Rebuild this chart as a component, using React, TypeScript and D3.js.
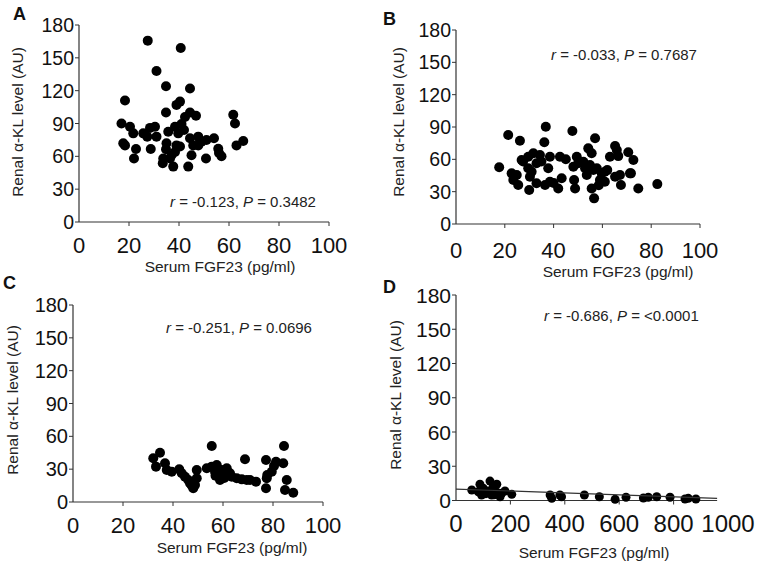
import React from "react";
import * as d3 from "d3";

// ---------- Data ----------
const aX = [27.5, 40.7, 31, 34.8, 44.4, 18.4, 40.4, 39, 34.8, 44.4, 46.8, 42.4, 61.7, 62.4, 17, 20.4, 21.7, 25.7, 28.4, 30.4, 31, 27.3, 35.7, 38.4, 39.7, 41, 42, 17.7, 18.4, 22.8, 28.7, 35, 34.8, 39, 40.4, 38.4, 37, 33.7, 33.5, 36.4, 37.7, 22, 44.4, 45, 43.7, 47.7, 49, 51, 54, 45.7, 47.7, 50.8, 55.7, 56, 57, 63, 65.7];
const aY = [165.7, 159, 138, 124, 122, 111, 110, 107, 100, 100, 97, 96, 98, 90, 90, 87, 81, 81, 86, 87, 78, 78, 82.5, 87, 81, 89.6, 84, 72, 70, 66.7, 66.7, 72, 66.5, 70, 69, 64, 61, 58, 53.6, 58, 50.6, 58, 76.5, 61, 50.6, 78, 73.4, 75, 76.5, 70, 70, 58, 67, 63, 60, 70, 74];

const bX = [17.7, 21.4, 26.2, 36.8, 36.2, 47.7, 57, 54.2, 55.6, 65.2, 65.9, 63.1, 66.5, 70.6, 72.7, 71.7, 67.6, 74.7, 82.5, 22.8, 24.9, 23.5, 25.5, 26.9, 29.6, 29.6, 31, 30.3, 30, 31.7, 34.4, 33, 33, 36.5, 38.5, 37.8, 38.5, 42.6, 43.3, 41.9, 48.1, 49.5, 48.4, 48.8, 50.1, 52.2, 52.9, 53.6, 54.9, 56.3, 55.6, 56.6, 57.7, 59.7, 59, 61, 61, 65.2, 67.2, 71.3, 27.5, 35, 40, 45, 58.5, 62];
const bY = [52.6, 82.6, 77.3, 90.3, 75.8, 86.3, 79.5, 70.2, 65.6, 72.4, 68.6, 62.4, 63, 66.5, 59.4, 47, 36.2, 33, 37, 47, 45.5, 40.8, 36.2, 59.4, 62.4, 51.7, 48.5, 43.9, 31.5, 65.6, 64, 56.3, 37.8, 36.2, 39.2, 51.7, 62.4, 62.4, 42.4, 33, 53.2, 62.4, 40.8, 33, 56.3, 57.8, 51.7, 45.5, 54.7, 50.1, 33, 23.8, 51.7, 47, 40.8, 48.5, 39.2, 43.9, 45.5, 47, 58, 58, 38, 60, 36, 50];

const cX = [32.1, 34.8, 33.2, 36.8, 37.5, 39.5, 42.5, 43.5, 44.8, 46.1, 46.8, 48.1, 48.8, 49.5, 49.5, 55.5, 53.5, 55.5, 57.5, 56.8, 59.5, 58.8, 61.5, 62.8, 63.5, 65.5, 67.5, 69.5, 70.8, 73.2, 68.8, 77.2, 77.5, 77.7, 77.2, 79.5, 80.4, 81.2, 84.4, 84.1, 85.5, 84.8, 88.1, 47.5, 58, 60.5, 57];
const cY = [39.9, 45, 32.3, 35.4, 29.3, 27.7, 29.9, 26.2, 23.1, 20.1, 17.1, 12.5, 15.5, 29.3, 21.7, 51.2, 30.8, 32.3, 33.8, 27.7, 29.3, 20.1, 30.8, 26.2, 23.1, 21.7, 20.7, 20.1, 20.1, 18.6, 39, 38.4, 21.7, 24.7, 12.5, 27.7, 32.9, 36.8, 51.2, 35.4, 20.1, 11, 8.5, 15, 25, 22, 24];

const dX = [58, 88, 82, 94, 100, 125, 119, 131, 137, 150, 150, 162, 168, 180, 205, 346, 352, 382, 388, 472, 527, 585, 625, 689, 707, 738, 787, 842, 854, 882, 110, 140];
const dY = [9.2, 14.2, 7.7, 4.8, 10.7, 17, 8.3, 4.8, 12.1, 14.2, 7.2, 3.3, 6.3, 8.3, 5.4, 4.8, 1.9, 4.8, 3.3, 4.8, 3.3, 1, 2.8, 2.2, 2.8, 3.3, 2.8, 1.3, 1.9, 1.3, 6, 5];
const dFitX = [0, 960];
const dFitY = [10, 1.8];

const yTicks = [0, 30, 60, 90, 120, 150, 180];
const xTicks100 = [0, 20, 40, 60, 80, 100];
const xTicks1000 = [0, 200, 400, 600, 800, 1000];

const letters = ["A", "B", "C", "D"];
const stats = [
  ["-0.123", "0.3482"],
  ["-0.033", "0.7687"],
  ["-0.251", "0.0696"],
  ["-0.686", "<0.0001"],
];
const xTitle = "Serum FGF23 (pg/ml)";
const yTitle = "Renal \u03b1-KL level (AU)";

const FONT = "'Liberation Sans', Arial, Helvetica, sans-serif";

type Geo = {
  xr: [number, number];
  yr: [number, number];
  xDomain: [number, number];
  xEnd: number;
  xTicks: number[];
  xLabBase: number;
  xLabSize: number;
  yLabSize: number;
  titleX: number;
  titleBase: number;
  yTitleX: number;
  yTitleY: number;
  statX: number;
  statBase: number;
  letterX: number;
  letterBase: number;
  r: number;
};

const geos: Geo[] = [
  { xr: [79, 329], yr: [222, 25], xDomain: [0, 100], xEnd: 100, xTicks: xTicks100, xLabBase: 253, xLabSize: 22, yLabSize: 19.5, titleX: 220, titleBase: 272, yTitleX: 17, yTitleY: 122, statX: 170, statBase: 207, letterX: 13, letterBase: 20, r: 5 },
  { xr: [456, 700], yr: [224, 30], xDomain: [0, 100], xEnd: 100, xTicks: xTicks100, xLabBase: 258, xLabSize: 22, yLabSize: 19.5, titleX: 618, titleBase: 277, yTitleX: 398, yTitleY: 122, statX: 551, statBase: 60, letterX: 383, letterBase: 25, r: 5 },
  { xr: [73, 323], yr: [502, 305], xDomain: [0, 100], xEnd: 100, xTicks: xTicks100, xLabBase: 533, xLabSize: 22, yLabSize: 20, titleX: 232, titleBase: 553, yTitleX: 12, yTitleY: 400, statX: 166, statBase: 333, letterX: 3, letterBase: 289, r: 5 },
  { xr: [456, 728], yr: [500.5, 295], xDomain: [0, 1000], xEnd: 960, xTicks: xTicks1000, xLabBase: 532, xLabSize: 24, yLabSize: 21, titleX: 594, titleBase: 558, yTitleX: 395, yTitleY: 395, statX: 544, statBase: 321, letterX: 383, letterBase: 293, r: 4.5 },
];

const seriesX = [aX, bX, cX, dX];
const seriesY = [aY, bY, cY, dY];

function Panel({ i }: { i: number }) {
  const g = geos[i];
  const x = d3.scaleLinear().domain(g.xDomain).range(g.xr);
  const y = d3.scaleLinear().domain([0, 180]).range(g.yr);
  const xs = seriesX[i];
  const ys = seriesY[i];
  const axisColor = "#333";
  const fit =
    i === 3
      ? d3.line<number>()
          .x((d) => x(dFitX[d]))
          .y((d) => y(dFitY[d]))([0, 1])
      : null;
  return (
    <g>
      <text x={g.letterX} y={g.letterBase} fontSize={18} fontWeight="bold" fill="#111">
        {letters[i]}
      </text>
      <line x1={x(0)} x2={x(0)} y1={y(0)} y2={y(180)} stroke={axisColor} strokeWidth={1.2} />
      {yTicks.map((t) => (
        <g key={"y" + t}>
          <line x1={x(0) - 4} x2={x(0)} y1={y(t)} y2={y(t)} stroke={axisColor} strokeWidth={1} />
          <text x={x(0) - 5} y={y(t)} textAnchor="end" dominantBaseline="central" fontSize={g.yLabSize} fill="#111">
            {t}
          </text>
        </g>
      ))}
      <line x1={x(0)} x2={x(g.xEnd)} y1={y(0)} y2={y(0)} stroke={axisColor} strokeWidth={1.2} />
      {g.xTicks.map((t) => (
        <g key={"x" + t}>
          {t > 0 && t <= g.xEnd && (
            <line x1={x(t)} x2={x(t)} y1={y(0)} y2={y(0) + 4} stroke={axisColor} strokeWidth={1} />
          )}
          <text x={x(t)} y={g.xLabBase} textAnchor="middle" fontSize={g.xLabSize} fill="#111">
            {t}
          </text>
        </g>
      ))}
      <text x={g.titleX} y={g.titleBase} textAnchor="middle" fontSize={15.5} fill="#222">
        {xTitle}
      </text>
      <text
        transform={`translate(${g.yTitleX},${g.yTitleY}) rotate(-90)`}
        textAnchor="middle"
        dominantBaseline="central"
        fontSize={15.5}
        fill="#222"
      >
        {yTitle}
      </text>
      {xs.map((v, k) => (
        <circle key={k} cx={x(v)} cy={y(ys[k])} r={g.r} fill="#000" />
      ))}
      {fit && <path d={fit} stroke="#333" strokeWidth={1.2} fill="none" />}
      <text x={g.statX} y={g.statBase} fontSize={15} fill="#222">
        <tspan fontStyle="italic">r</tspan>
        {` = ${stats[i][0]},  `}
        <tspan fontStyle="italic">P</tspan>
        {` = ${stats[i][1]}`}
      </text>
    </g>
  );
}

export default function App() {
  return (
    <svg
      width={760}
      height={565}
      style={{ position: "absolute", left: 0, top: 0, background: "#fff", fontFamily: FONT }}
      fontFamily={FONT}
    >
      <rect x={0} y={0} width={760} height={565} fill="#fff" />
      {[0, 1, 2, 3].map((i) => (
        <Panel key={i} i={i} />
      ))}
    </svg>
  );
}
